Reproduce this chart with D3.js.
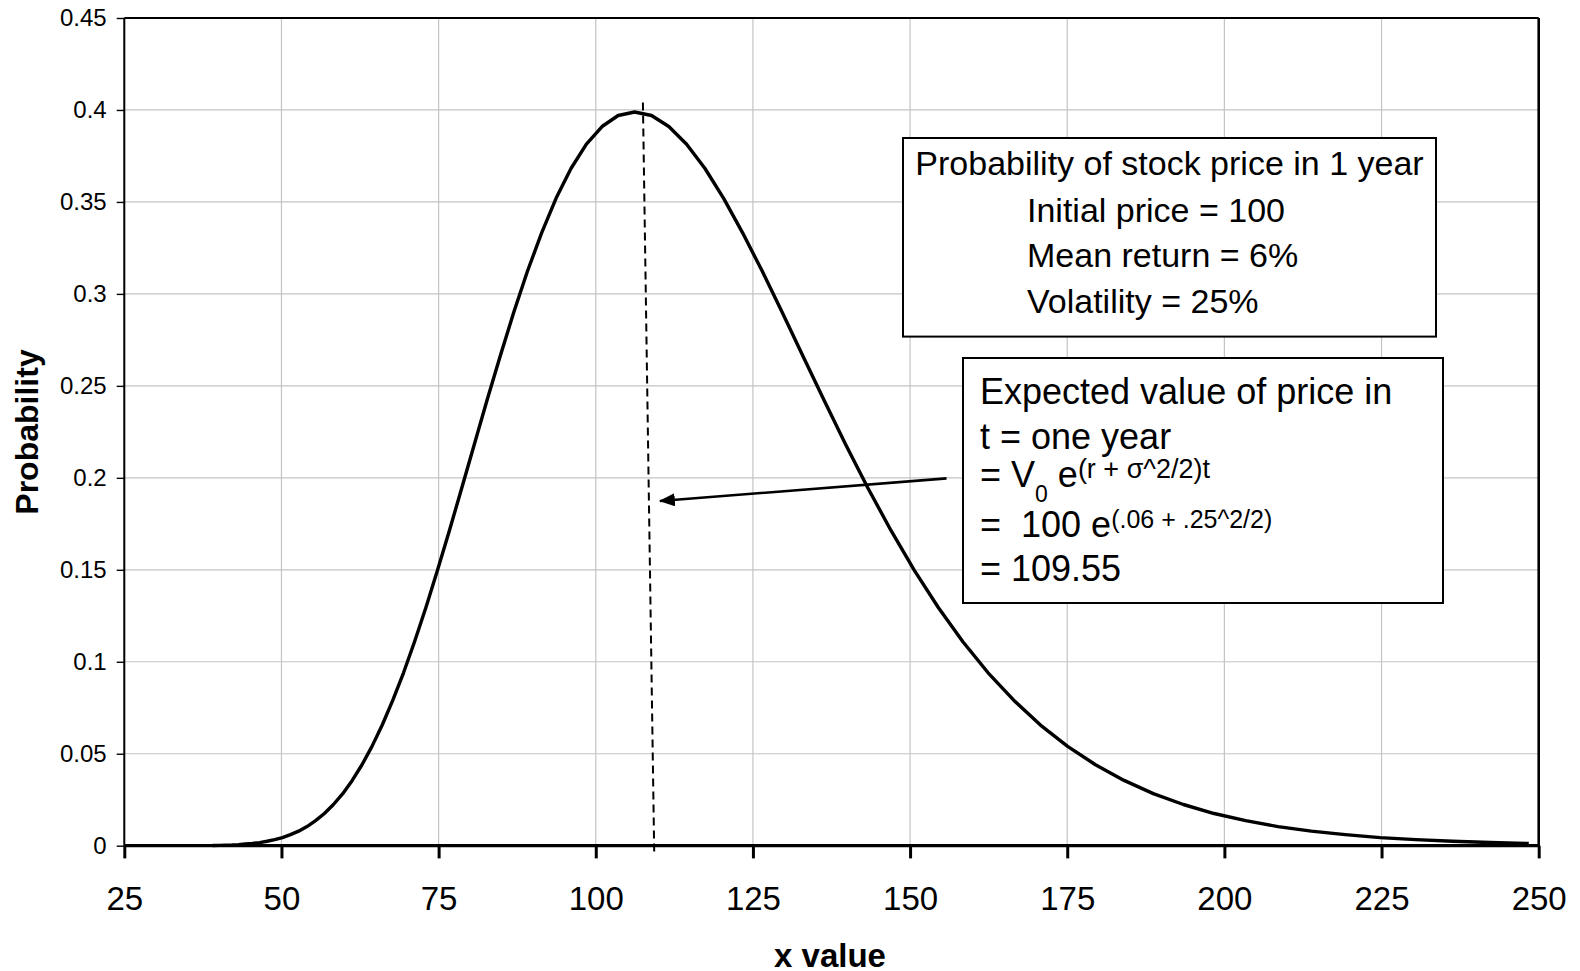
<!DOCTYPE html>
<html>
<head>
<meta charset="utf-8">
<script src="https://cdn.jsdelivr.net/npm/d3@7"></script>
<style>
  body { margin: 0; background: #fff; }
  svg { display: block; font-family: "Liberation Sans", Arial, sans-serif; }
  text { white-space: pre; }
</style>
</head>
<body>
<svg id="chart" width="1580" height="971"></svg>
<script>
// curve points (price, probability)
const priceX = [39.06, 40.05, 41.06, 42.10, 43.17, 44.26, 45.38, 46.53, 47.71, 48.92,
  50.16, 51.43, 52.73, 54.06, 55.43, 56.83, 58.27, 59.75, 61.26, 62.81,
  64.40, 66.03, 67.70, 69.42, 71.17, 72.98, 74.82, 76.72, 78.66, 80.65,
  82.69, 84.79, 86.93, 89.13, 91.39, 93.70, 96.08, 98.51, 101.00, 103.56,
  106.18, 108.87, 111.62, 114.45, 117.35, 120.32, 123.36, 126.49, 129.69, 132.97,
  136.34, 139.79, 143.33, 146.96, 150.68, 154.49, 158.40, 162.41, 166.52, 170.74,
  175.06, 179.49, 184.04, 188.69, 193.47, 198.37, 203.39, 208.54, 213.82, 219.23,
  224.78, 230.47, 236.30, 242.29, 248.42];
const probY = [0.0001, 0.0002, 0.0003, 0.0004, 0.0006, 0.0009, 0.0012, 0.0017, 0.0024, 0.0033,
  0.0044, 0.0060, 0.0079, 0.0104, 0.0136, 0.0175, 0.0224, 0.0283, 0.0355, 0.0440,
  0.0540, 0.0656, 0.0790, 0.0940, 0.1109, 0.1295, 0.1497, 0.1714, 0.1942, 0.2179,
  0.2420, 0.2661, 0.2897, 0.3123, 0.3332, 0.3521, 0.3683, 0.3814, 0.3910, 0.3970,
  0.3989, 0.3970, 0.3910, 0.3814, 0.3683, 0.3521, 0.3332, 0.3123, 0.2897, 0.2661,
  0.2420, 0.2179, 0.1942, 0.1714, 0.1497, 0.1295, 0.1109, 0.0940, 0.0790, 0.0656,
  0.0540, 0.0440, 0.0355, 0.0283, 0.0224, 0.0175, 0.0136, 0.0104, 0.0079, 0.0060,
  0.0044, 0.0033, 0.0024, 0.0017, 0.0012];

const xTicks = [25, 50, 75, 100, 125, 150, 175, 200, 225, 250];
const xTickLabels = ["25", "50", "75", "100", "125", "150", "175", "200", "225", "250"];
const yTicks = [0, 0.05, 0.1, 0.15, 0.2, 0.25, 0.3, 0.35, 0.4, 0.45];
const yTickLabels = ["0", "0.05", "0.1", "0.15", "0.2", "0.25", "0.3", "0.35", "0.4", "0.45"];

// dashed line at the expected value and the arrow pointing to it (data coords)
const expectedLine = [[107.5, 0.404], [109.3, -0.004]];
const arrowLine = [[155.8, 0.1997], [110.2, 0.1874]];

const box1Title = "Probability of stock price in 1 year";
const box1Lines = ["Initial price = 100", "Mean return = 6%", "Volatility = 25%"];
const box2Lines = [
  [{ t: "Expected value of price in" }],
  [{ t: "t = one year" }],
  [{ t: "= V" }, { t: "0", kind: "sub" }, { t: " e" }, { t: "(r + \u03c3^2/2)t", kind: "sup" }],
  [{ t: "=  100 e" }, { t: "(.06 + .25^2/2)", kind: "sup" }],
  [{ t: "= 109.55" }]
];

const margin = { top: 18, right: 41.3, bottom: 125.3, left: 124.3 };
const W = 1580, H = 971;
const width = W - margin.left - margin.right;
const height = H - margin.top - margin.bottom;

const svg = d3.select("#chart");
const g = svg.append("g").attr("transform", `translate(${margin.left},${margin.top})`);

const x = d3.scaleLinear().domain([25, 250]).range([0, width]);
const y = d3.scaleLinear().domain([0, 0.45]).range([height, 0]);

// grid
g.append("g").selectAll("line").data(xTicks).join("line")
  .attr("x1", d => x(d)).attr("x2", d => x(d))
  .attr("y1", 0).attr("y2", height)
  .attr("stroke", "#c4c4c4").attr("stroke-width", 1.2);
g.append("g").selectAll("line").data(yTicks).join("line")
  .attr("x1", 0).attr("x2", width)
  .attr("y1", d => y(d)).attr("y2", d => y(d))
  .attr("stroke", "#c4c4c4").attr("stroke-width", 1.2);

// axes
const yAxis = g.append("g")
  .call(d3.axisLeft(y).tickValues(yTicks).tickFormat((d, i) => yTickLabels[i])
    .tickSize(7.6).tickPadding(10));
yAxis.select(".domain").remove();
yAxis.selectAll(".tick line").attr("stroke", "#000").attr("stroke-width", 1.4);
yAxis.selectAll(".tick text").style("font-size", "24px").attr("fill", "#000")
  .style("font-family", "'Liberation Sans', Arial, sans-serif");

const xAxis = g.append("g").attr("transform", `translate(0,${height})`)
  .call(d3.axisBottom(x).tickValues(xTicks).tickFormat((d, i) => xTickLabels[i])
    .tickSize(12.7).tickPadding(28));
xAxis.select(".domain").remove();
xAxis.selectAll(".tick line").attr("stroke", "#000").attr("stroke-width", 3);
xAxis.selectAll(".tick text").style("font-size", "33px").attr("fill", "#000")
  .style("font-family", "'Liberation Sans', Arial, sans-serif");

// frame
g.append("line").attr("x1", 0).attr("x2", width).attr("y1", 0).attr("y2", 0)
  .attr("stroke", "#000").attr("stroke-width", 2);
g.append("line").attr("x1", width).attr("x2", width).attr("y1", 0).attr("y2", height)
  .attr("stroke", "#000").attr("stroke-width", 2.6);
g.append("line").attr("x1", 0).attr("x2", 0).attr("y1", 0).attr("y2", height)
  .attr("stroke", "#000").attr("stroke-width", 2);

// curve
const pts = priceX.map((p, i) => [p, probY[i]]);
g.append("path").datum(pts)
  .attr("fill", "none").attr("stroke", "#000").attr("stroke-width", 3.4)
  .attr("stroke-linejoin", "round")
  .attr("d", d3.line().x(d => x(d[0])).y(d => y(d[1])));

// x axis line on top of the curve foot
g.append("line").attr("x1", 0).attr("x2", width + 1.3).attr("y1", height).attr("y2", height)
  .attr("stroke", "#000").attr("stroke-width", 3.3);

// expected value dashed line
g.append("line")
  .attr("x1", x(expectedLine[0][0])).attr("y1", y(expectedLine[0][1]))
  .attr("x2", x(expectedLine[1][0])).attr("y2", y(expectedLine[1][1]))
  .attr("stroke", "#000").attr("stroke-width", 2).attr("stroke-dasharray", "8,5");

// arrow
svg.append("defs").append("marker")
  .attr("id", "head").attr("markerUnits", "userSpaceOnUse")
  .attr("viewBox", "0 0 16 13").attr("markerWidth", 16).attr("markerHeight", 13)
  .attr("refX", 15).attr("refY", 6.5).attr("orient", "auto")
  .append("path").attr("d", "M0,0L16,6.5L0,13Z").attr("fill", "#000");
g.append("line")
  .attr("x1", x(arrowLine[0][0])).attr("y1", y(arrowLine[0][1]))
  .attr("x2", x(arrowLine[1][0])).attr("y2", y(arrowLine[1][1]))
  .attr("stroke", "#000").attr("stroke-width", 2.6)
  .attr("marker-end", "url(#head)");

// box 1
const b1 = svg.append("g");
b1.append("rect").attr("x", 903).attr("y", 138).attr("width", 533).attr("height", 198.6)
  .attr("fill", "#fff").attr("stroke", "#000").attr("stroke-width", 2);
b1.append("text").attr("x", 1169.5).attr("y", 175).attr("text-anchor", "middle")
  .style("font-size", "34px").text(box1Title);
b1.selectAll("text.l").data(box1Lines).join("text").attr("class", "l")
  .attr("x", 1027).attr("y", (d, i) => 221.5 + i * 45.5)
  .style("font-size", "34px").text(d => d);

// box 2
const b2 = svg.append("g");
b2.append("rect").attr("x", 963).attr("y", 358).attr("width", 480).attr("height", 245)
  .attr("fill", "#fff").attr("stroke", "#000").attr("stroke-width", 2);
const b2Base = [404, 449, 487, 537, 581];
const supSize = ["26px", "26px", "27px", "25px", "25px"];
box2Lines.forEach((parts, i) => {
  const t = b2.append("text").attr("x", 980).attr("y", b2Base[i]).style("font-size", "36px");
  let shift = 0;
  parts.forEach(p => {
    const target = p.kind === "sup" ? -9 : p.kind === "sub" ? 15 : 0;
    t.append("tspan")
      .attr("dy", target - shift)
      .style("font-size", p.kind ? (p.kind === "sup" ? supSize[i] : "23px") : "36px")
      .text(p.t);
    shift = target;
  });
});

// axis titles
svg.append("text")
  .attr("transform", "translate(38,432) rotate(-90)")
  .attr("text-anchor", "middle").style("font-size", "32px").style("font-weight", "bold")
  .text("Probability");
svg.append("text")
  .attr("x", 830).attr("y", 967).attr("text-anchor", "middle")
  .style("font-size", "33px").style("font-weight", "bold")
  .text("x value");
</script>
</body>
</html>
